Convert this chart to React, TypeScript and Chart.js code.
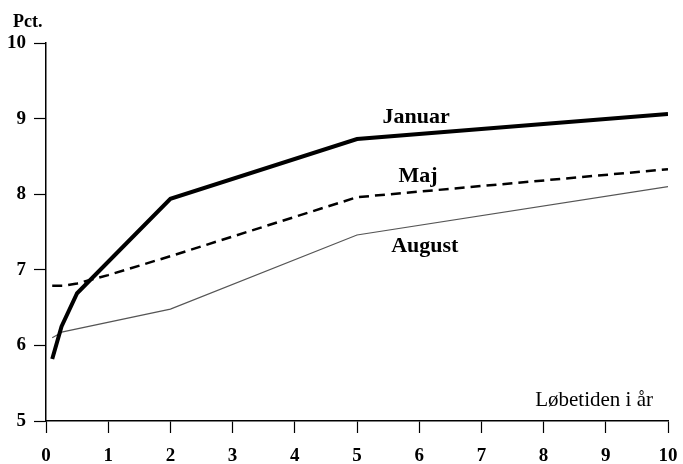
import React, { useEffect, useRef } from "react";
import { Chart, registerables } from "chart.js";

Chart.register(...registerables);

const januarX = [0.1, 0.25, 0.5, 2, 5, 10];
const januarY = [5.82, 6.25, 6.69, 7.94, 8.73, 9.06];
const majX = [0.1, 0.3, 0.5, 1, 2, 5, 10];
const majY = [6.79, 6.79, 6.82, 6.93, 7.18, 7.96, 8.33];
const augustX = [0.1, 0.27, 2, 5, 10];
const augustY = [6.1, 6.18, 6.48, 7.46, 8.1];

const xTicks = [0, 1, 2, 3, 4, 5, 6, 7, 8, 9, 10];
const yTicks = [5, 6, 7, 8, 9, 10];

const seriesLabels = [
  { text: "Januar", x: 5.95, y: 9.02 },
  { text: "Maj", x: 5.98, y: 8.23 },
  { text: "August", x: 6.09, y: 7.31 },
];
const yTitle = "Pct.";
const xTitle = "Løbetiden i år";

const SERIF = "'Liberation Serif', 'Times New Roman', serif";

function pts(xs: number[], ys: number[]) {
  return xs.map((x, i) => ({ x, y: ys[i] }));
}

export default function App() {
  const ref = useRef<HTMLCanvasElement | null>(null);
  useEffect(() => {
    if (!ref.current) return;
    const textPlugin = {
      id: "texts",
      afterDraw(chart: any) {
        const ctx = chart.ctx;
        const xs = chart.scales.x;
        const ys = chart.scales.y;
        ctx.save();
        ctx.fillStyle = "#000";
        ctx.textBaseline = "middle";
        ctx.textAlign = "center";
        ctx.font = `bold 22px ${SERIF}`;
        seriesLabels.forEach((l) => {
          ctx.fillText(l.text, xs.getPixelForValue(l.x), ys.getPixelForValue(l.y));
        });
        ctx.font = `bold 18px ${SERIF}`;
        ctx.textAlign = "left";
        ctx.fillText(yTitle, 13, chart.chartArea.top - 21);
        ctx.font = `21px ${SERIF}`;
        ctx.textAlign = "right";
        ctx.fillText(xTitle, chart.chartArea.right - 15, chart.chartArea.bottom - 21);
        ctx.restore();
      },
    };
    const chart = new Chart(ref.current, {
      type: "line",
      data: {
        datasets: [
          {
            label: "Januar",
            data: pts(januarX, januarY),
            borderColor: "#000",
            borderWidth: 4,
            pointRadius: 0,
            tension: 0,
          },
          {
            label: "Maj",
            data: pts(majX, majY),
            borderColor: "#000",
            borderWidth: 2.5,
            borderDash: [10, 6],
            pointRadius: 0,
            tension: 0,
          },
          {
            label: "August",
            data: pts(augustX, augustY),
            borderColor: "#555",
            borderWidth: 1.2,
            pointRadius: 0,
            tension: 0,
          },
        ],
      },
      options: {
        animation: false,
        responsive: false,
        layout: { padding: { top: 43, right: 15, left: 0, bottom: 0 } },
        plugins: { legend: { display: false }, tooltip: { enabled: false } },
        scales: {
          x: {
            type: "linear",
            min: 0,
            max: 10,
            afterBuildTicks: (s: any) => {
              s.ticks = xTicks.map((v) => ({ value: v }));
            },
            afterFit: (s: any) => {
              s.height = 43;
              s.paddingRight = 0;
              s.paddingLeft = 0;
            },
            border: { color: "#000", width: 1.5 },
            grid: { drawOnChartArea: false, tickLength: 12, color: "#000", tickWidth: 1.2 },
            ticks: {
              color: "#000",
              padding: 12,
              maxRotation: 0,
              font: { family: SERIF, size: 19, weight: "bold" },
            },
          },
          y: {
            type: "linear",
            min: 5,
            max: 10,
            afterBuildTicks: (s: any) => {
              s.ticks = yTicks.map((v) => ({ value: v }));
            },
            afterFit: (s: any) => {
              s.width = 46;
              s.paddingTop = 0;
              s.paddingBottom = 0;
            },
            border: { color: "#000", width: 1.5 },
            grid: { drawOnChartArea: false, tickLength: 12, color: "#000", tickWidth: 1.2 },
            ticks: {
              color: "#000",
              padding: 8,
              font: { family: SERIF, size: 19, weight: "bold" },
            },
          },
        },
      },
      plugins: [textPlugin],
    } as any);
    return () => chart.destroy();
  }, []);
  return (
    <div style={{ position: "absolute", left: 0, top: 0, width: 683, height: 464, background: "#fff" }}>
      <canvas ref={ref} width={683} height={464} />
    </div>
  );
}
